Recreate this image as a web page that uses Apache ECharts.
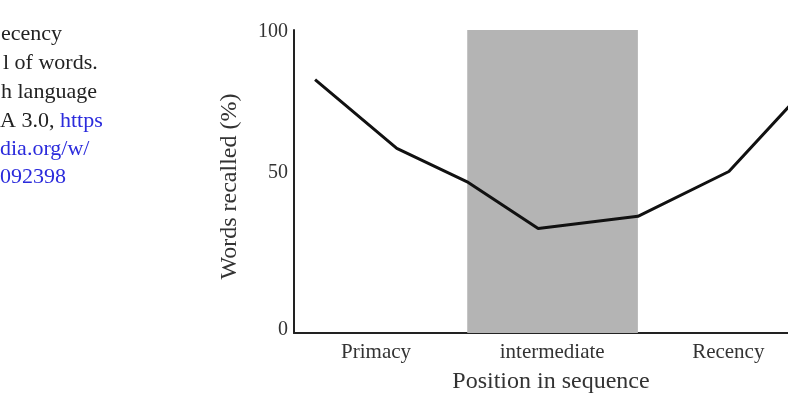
<!DOCTYPE html>
<html>
<head>
<meta charset="utf-8">
<script src="https://cdn.jsdelivr.net/npm/echarts@6/dist/echarts.min.js"></script>
<style>
html,body{margin:0;padding:0;background:#fff;}
#chart{width:788px;height:399px;}
</style>
</head>
<body>
<div id="chart"></div>
<script>
// Data
var positions = [4.1, 20.0, 33.9, 47.5, 66.9, 84.6, 100];          // position along the sequence (0-100 scale)
var recalled  = [83.6, 60.9, 49.7, 34.5, 38.5, 53.3, 81.6];          // words recalled (%)
var phaseLabels = ['Primacy', 'intermediate', 'Recency'];
var intermediateBand = [33.7, 66.9];                                  // shaded intermediate region
var yTicks = [0, 50, 100];
var captionLines = ['ecency', 'l of words.', 'h language', 'A 3.0, ', 'dia.org/w/', '092398'];

var serif = '"Liberation Serif", "DejaVu Serif", serif';
var chart = echarts.init(document.getElementById('chart'), null, {renderer: 'canvas'});

var lineData = positions.map(function (p, i) { return [p, recalled[i]]; });

var captionGraphics = [
  {type: 'text', left: 1, top: 23, style: {text: captionLines[0], font: '22px ' + serif, fill: '#222'}},
  {type: 'text', left: 3, top: 52, style: {text: captionLines[1], font: '22px ' + serif, fill: '#222'}},
  {type: 'text', left: 1, top: 81, style: {text: captionLines[2], font: '22px ' + serif, fill: '#222'}},
  {type: 'text', left: 0, top: 110, style: {text: captionLines[3], font: '22px ' + serif, fill: '#222'}},
  {type: 'text', left: 60, top: 110, style: {text: 'https', font: '22px ' + serif, fill: '#2b2bdc'}},
  {type: 'text', left: 0, top: 138, style: {text: captionLines[4], font: '22px ' + serif, fill: '#2b2bdc'}},
  {type: 'text', left: 0, top: 166, style: {text: captionLines[5], font: '22px ' + serif, fill: '#2b2bdc'}}
];

var option = {
  animation: false,
  backgroundColor: '#fff',
  graphic: captionGraphics,
  grid: [
    {left: 294, top: 30, right: 0, bottom: 65, containLabel: false},
    {left: 200, top: 30, right: 0, bottom: 65, containLabel: false}
  ],
  xAxis: [
    {
      type: 'value', gridIndex: 0, min: 0, max: 96.1,
      axisLine: {show: true, onZero: false, lineStyle: {color: '#222', width: 2}},
      axisTick: {show: false}, axisLabel: {show: false}, splitLine: {show: false},
      name: 'Position in sequence', nameLocation: 'middle', nameGap: 37,
      nameTextStyle: {color: '#333', fontSize: 24, fontFamily: serif, padding: [0, 0, 0, 20]}
    },
    {
      type: 'value', gridIndex: 1, min: 0, max: 588 / 177, interval: 1,
      axisLine: {show: false}, axisTick: {show: false}, splitLine: {show: false},
      axisLabel: {
        show: true, margin: 8, color: '#333', fontSize: 21, fontFamily: serif,
        showMinLabel: true, showMaxLabel: true,
        formatter: function (v) {
          var i = Math.round(v);
          if (Math.abs(v - i) > 1e-6 || i < 1 || i > phaseLabels.length) return '';
          return phaseLabels[i - 1];
        }
      }
    }
  ],
  yAxis: [
    {
      type: 'value', gridIndex: 0, min: 0, max: 100, interval: 50,
      axisLine: {show: true, lineStyle: {color: '#222', width: 2}},
      axisTick: {show: false}, splitLine: {show: false},
      axisLabel: {
        show: true, margin: 6, color: '#333', fontSize: 20, fontFamily: serif,
        formatter: function (v) {
          if (yTicks.indexOf(v) < 0) return '';
          if (v === 50) return '{up|' + v + '}';
          if (v === 0) return '{up0|' + v + '}';
          if (v === 100) return '{dn|' + v + '}';
          return '' + v;
        },
        rich: {
          up: {fontSize: 20, fontFamily: serif, color: '#333', padding: [0, 0, 18, 0]},
          up0: {fontSize: 20, fontFamily: serif, color: '#333', padding: [0, 0, 6, 0]},
          dn: {fontSize: 20, fontFamily: serif, color: '#333', padding: [4, 0, 0, 0]}
        }
      },
      name: 'Words recalled (%)', nameLocation: 'middle', nameGap: 52, nameRotate: 90,
      nameTextStyle: {color: '#333', fontSize: 24, fontFamily: serif, padding: [0, 10, 0, 0]}
    },
    {
      type: 'value', gridIndex: 1, min: 0, max: 100, show: false
    }
  ],
  series: [
    {
      type: 'line', xAxisIndex: 0, yAxisIndex: 0,
      data: lineData, showSymbol: false, symbol: 'none', clip: true,
      lineStyle: {color: '#111', width: 3},
      markArea: {
        silent: true,
        itemStyle: {color: '#b4b4b4', opacity: 1},
        data: [[{xAxis: intermediateBand[0]}, {xAxis: intermediateBand[1]}]]
      },
      z: 3
    }
  ]
};
chart.setOption(option);
</script>
</body>
</html>
